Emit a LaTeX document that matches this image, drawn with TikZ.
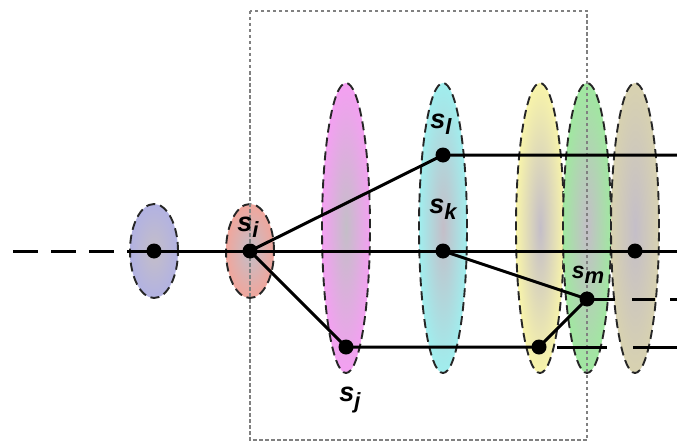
\documentclass[tikz,border=0pt]{standalone}
\usepackage{fontspec}
\setmainfont{Liberation Sans}
\usetikzlibrary{shapes.geometric, positioning, calc}
\definecolor{ringblue}   {RGB}{178, 178, 226}
\definecolor{ringred}    {RGB}{240, 166, 156}
\definecolor{ringpink}   {RGB}{244, 160, 242}
\definecolor{ringcyan}   {RGB}{160, 238, 238}
\definecolor{ringyellow} {RGB}{248, 244, 170}
\definecolor{ringgreen}  {RGB}{160, 232, 160}
\definecolor{ringtan}    {RGB}{216, 210, 176}
\definecolor{ringcore}   {RGB}{196, 190, 200}
\newcommand{\sub}[1]{\raisebox{-0.45ex}{\fontsize{22}{22}\selectfont #1}}
\tikzset{
	ring/.style={ellipse, draw=black!85, dash pattern=on 9pt off 5pt, line width=1.9pt,
		minimum width=48pt, inner sep=0pt, shading=radial,
		inner color=ringcore, outer color=#1},
	tallring/.style={ring=#1, minimum height=290pt},
	shortring/.style={ring=#1, minimum height=94pt},
	link/.style={line width=3pt},
	lab/.style={font=\fontsize{27}{27}\selectfont\bfseries\itshape, inner sep=0pt},
	boxline/.style={draw=black!50, line width=2.6pt, dash pattern=on 3.5pt off 2.5pt}
}
\begin{document}
\begin{tikzpicture}[x=1pt, y=-1pt]
	\useasboundingbox (0,0) rectangle (677,444);
	% rings
	\node[shortring=ringblue] (ringO) at (154,251) {};
	\node[shortring=ringred] (ringI) at (250,251) {};
	\node[tallring=ringpink] (ringJ) at (346,228) {};
	\node[tallring=ringcyan] (ringK) at (443,228) {};
	\node[tallring=ringyellow] (ringY) at (540,228) {};
	\node[tallring=ringgreen] (ringM) at (587,228) {};
	\node[tallring=ringtan] (ringT) at (635,228) {};
	% window
	\draw[boxline] (250,11) rectangle (587,440);
	% points
	\coordinate (s0) at (154,251);
	\coordinate (si) at (250,251);
	\coordinate (sj) at (346,347);
	\coordinate (sl) at (443,155);
	\coordinate (sk) at (443,251);
	\coordinate (sy) at (539,347);
	\coordinate (sm) at (587,299);
	\coordinate (st) at (635,251);
	\coordinate (farL) at (13,251);
	\foreach \r/\y in {A/155, B/251, C/299, D/347}{\coordinate (end\r) at (677,\y);}
	% links
	\draw[link, dash pattern=on 25pt off 13pt] (farL) -- (ringO.west);
	\draw[link] (ringO.west) -- (endB);
	\draw[link] (si) -- (sl) -- (endA);
	\draw[link] (si) -- (sj) -- (sy);
	\draw[link] (sk) -- (sm);
	\draw[link] (sy) -- (sm);
	\draw[link, dash pattern=on 28pt off 17pt on 23pt off 15pt] (sm) -- (endC);
	\draw[link, dash pattern=on 0pt off 18pt on 50pt off 26pt on 60pt off 10pt] (sy) -- (endD);
	\foreach \p in {s0,si,sj,sl,sk,sy,sm,st}{\fill (\p) circle (7.5pt);}
	% labels
	\node[lab] (labI) at (248,227) {s\sub{i}};
	\node[lab] (labL) at (441,124) {s\sub{l}};
	\node[lab] (labK) at (443,209) {s\sub{k}};
	\node[lab] (labJ) at (350,400) {s\sub{j}};
	\node[lab, font=\fontsize{23}{23}\selectfont\bfseries\itshape] (labM) at (588,275) {s\sub{m}};
\end{tikzpicture}
\end{document}
